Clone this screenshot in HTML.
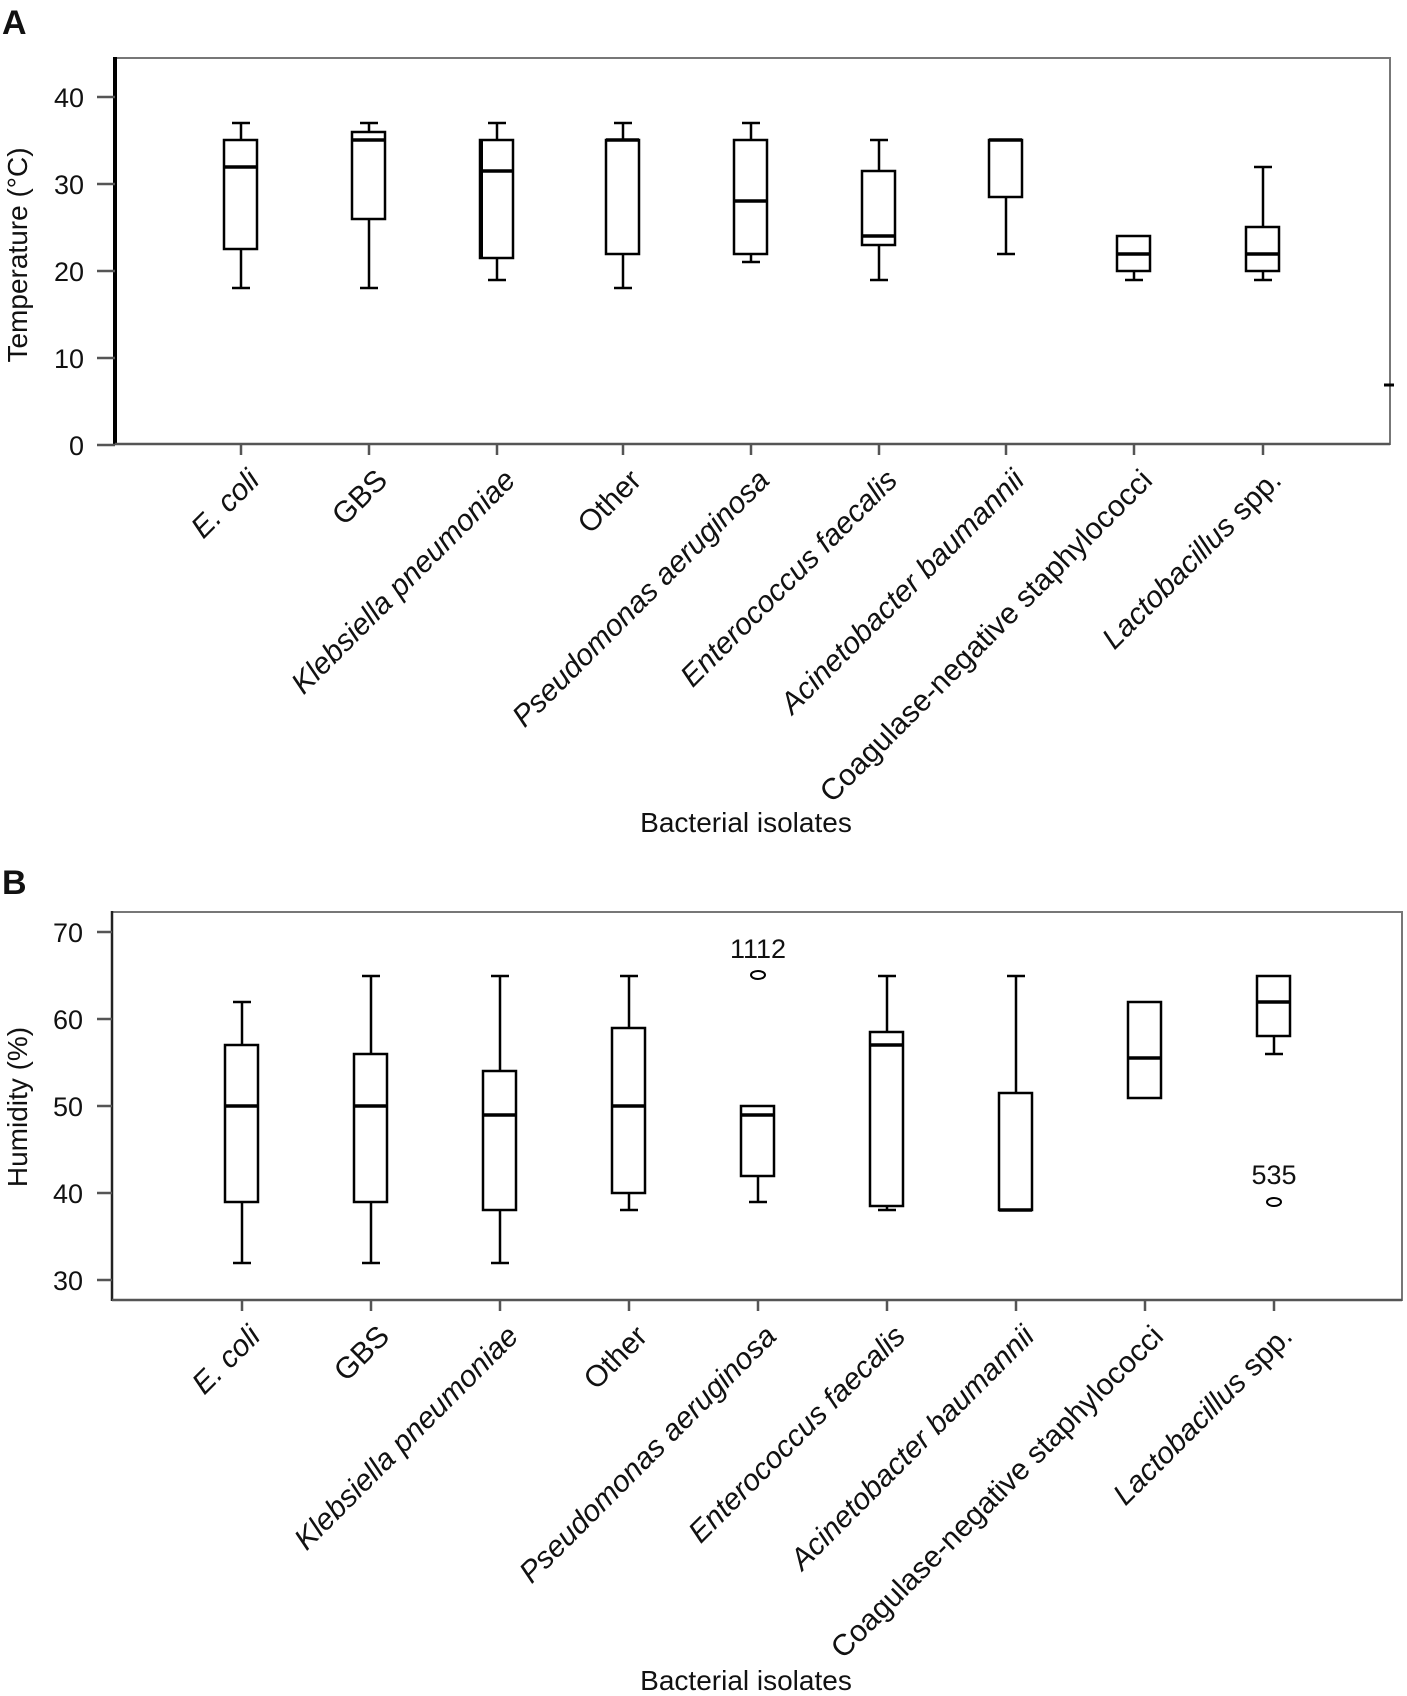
<!DOCTYPE html>
<html><head><meta charset="utf-8"><style>
html,body{margin:0;padding:0;background:#fff;}
svg{display:block;}
text{font-family:"Liberation Sans",Arial,sans-serif;fill:#111;}
</style></head><body>
<svg width="1407" height="1696" viewBox="0 0 1407 1696" xmlns="http://www.w3.org/2000/svg">
<rect width="1407" height="1696" fill="#fff"/>

<!-- Panel A -->
<text x="2" y="34" font-size="34" font-weight="bold">A</text>
<rect x="115" y="58" width="1275" height="386" fill="none" stroke="#777" stroke-width="2"/>
<line x1="115" y1="57" x2="115" y2="445" stroke="#000" stroke-width="4"/>
<line x1="115" y1="444" x2="1390" y2="444" stroke="#555" stroke-width="2.5"/>
<g stroke="#555" stroke-width="2.5">
<line x1="97" y1="97" x2="115" y2="97"/><line x1="97" y1="184" x2="115" y2="184"/>
<line x1="97" y1="271" x2="115" y2="271"/><line x1="97" y1="358" x2="115" y2="358"/>
<line x1="97" y1="445" x2="115" y2="445"/>
</g>
<g font-size="27" text-anchor="end">
<text x="84" y="107">40</text><text x="84" y="194">30</text><text x="84" y="281">20</text>
<text x="84" y="368">10</text><text x="84" y="455">0</text>
</g>
<text transform="translate(27,255) rotate(-90)" font-size="28" text-anchor="middle">Temperature (°C)</text>
<line x1="1384" y1="385" x2="1394" y2="385" stroke="#000" stroke-width="3"/>

<g stroke="#000" stroke-width="2.5" fill="none">
<line x1="241" y1="123" x2="241" y2="140"/><line x1="241" y1="249" x2="241" y2="288"/>
<line x1="232" y1="123" x2="250" y2="123"/><line x1="232" y1="288" x2="250" y2="288"/>
<rect x="224" y="140" width="33" height="109" fill="#fff"/><line x1="224" y1="167" x2="257" y2="167" stroke-width="3.5"/>
<line x1="369" y1="123" x2="369" y2="132"/><line x1="369" y1="219" x2="369" y2="288"/>
<line x1="360" y1="123" x2="378" y2="123"/><line x1="360" y1="288" x2="378" y2="288"/>
<rect x="352" y="132" width="33" height="87" fill="#fff"/><line x1="352" y1="140" x2="385" y2="140" stroke-width="3.5"/>
<line x1="497" y1="123" x2="497" y2="140"/><line x1="497" y1="258" x2="497" y2="280"/>
<line x1="488" y1="123" x2="506" y2="123"/><line x1="488" y1="280" x2="506" y2="280"/>
<rect x="480" y="140" width="33" height="118" fill="#fff"/><line x1="480" y1="171" x2="513" y2="171" stroke-width="3.5"/>
<line x1="481" y1="140" x2="481" y2="258" stroke-width="4"/>
<line x1="623" y1="123" x2="623" y2="140"/><line x1="623" y1="254" x2="623" y2="288"/>
<line x1="614" y1="123" x2="632" y2="123"/><line x1="614" y1="288" x2="632" y2="288"/>
<rect x="606" y="140" width="33" height="114" fill="#fff"/><line x1="606" y1="140" x2="639" y2="140" stroke-width="3.5"/>
<line x1="751" y1="123" x2="751" y2="140"/><line x1="751" y1="254" x2="751" y2="262"/>
<line x1="742" y1="123" x2="760" y2="123"/><line x1="742" y1="262" x2="760" y2="262"/>
<rect x="734" y="140" width="33" height="114" fill="#fff"/><line x1="734" y1="201" x2="767" y2="201" stroke-width="3.5"/>
<line x1="879" y1="140" x2="879" y2="171"/><line x1="879" y1="245" x2="879" y2="280"/>
<line x1="870" y1="140" x2="888" y2="140"/><line x1="870" y1="280" x2="888" y2="280"/>
<rect x="862" y="171" width="33" height="74" fill="#fff"/><line x1="862" y1="236" x2="895" y2="236" stroke-width="3.5"/>
<line x1="1006" y1="197" x2="1006" y2="254"/><line x1="997" y1="254" x2="1015" y2="254"/>
<rect x="989" y="140" width="33" height="57" fill="#fff"/><line x1="989" y1="140" x2="1022" y2="140" stroke-width="3.5"/>
<line x1="1134" y1="271" x2="1134" y2="280"/><line x1="1125" y1="280" x2="1143" y2="280"/>
<rect x="1117" y="236" width="33" height="35" fill="#fff"/><line x1="1117" y1="254" x2="1150" y2="254" stroke-width="3.5"/>
<line x1="1263" y1="167" x2="1263" y2="227"/><line x1="1263" y1="271" x2="1263" y2="280"/>
<line x1="1254" y1="167" x2="1272" y2="167"/><line x1="1254" y1="280" x2="1272" y2="280"/>
<rect x="1246" y="227" width="33" height="44" fill="#fff"/><line x1="1246" y1="254" x2="1279" y2="254" stroke-width="3.5"/>
</g>
<g stroke="#555" stroke-width="2.5">
<line x1="241" y1="444" x2="241" y2="455"/><line x1="369" y1="444" x2="369" y2="455"/>
<line x1="497" y1="444" x2="497" y2="455"/><line x1="623" y1="444" x2="623" y2="455"/>
<line x1="751" y1="444" x2="751" y2="455"/><line x1="879" y1="444" x2="879" y2="455"/>
<line x1="1006" y1="444" x2="1006" y2="455"/><line x1="1134" y1="444" x2="1134" y2="455"/>
<line x1="1263" y1="444" x2="1263" y2="455"/>
</g>
<g font-size="30" text-anchor="end">
<text transform="translate(261,482) rotate(-45)" font-style="italic">E. coli</text>
<text transform="translate(389,482) rotate(-45)">GBS</text>
<text transform="translate(517,482) rotate(-45)" font-style="italic">Klebsiella pneumoniae</text>
<text transform="translate(643,482) rotate(-45)">Other</text>
<text transform="translate(771,482) rotate(-45)" font-style="italic">Pseudomonas aeruginosa</text>
<text transform="translate(899,482) rotate(-45)" font-style="italic">Enterococcus faecalis</text>
<text transform="translate(1026,482) rotate(-45)" font-style="italic">Acinetobacter baumannii</text>
<text transform="translate(1154,482) rotate(-45)">Coagulase-negative staphylococci</text>
<text transform="translate(1283,482) rotate(-45)"><tspan font-style="italic">Lactobacillus</tspan> spp.</text>
</g>
<text x="746" y="832" font-size="28" text-anchor="middle">Bacterial isolates</text>

<!-- Panel B -->
<text x="2" y="894" font-size="34" font-weight="bold">B</text>
<rect x="112" y="912" width="1290" height="388" fill="none" stroke="#777" stroke-width="2"/>
<line x1="112" y1="911" x2="112" y2="1301" stroke="#222" stroke-width="2.5"/>
<line x1="112" y1="1300" x2="1402" y2="1300" stroke="#555" stroke-width="2.5"/>
<g stroke="#555" stroke-width="2.5">
<line x1="97" y1="932" x2="112" y2="932"/><line x1="97" y1="1019" x2="112" y2="1019"/>
<line x1="97" y1="1106" x2="112" y2="1106"/><line x1="97" y1="1193" x2="112" y2="1193"/>
<line x1="97" y1="1280" x2="112" y2="1280"/>
</g>
<g font-size="27" text-anchor="end">
<text x="83" y="942">70</text><text x="83" y="1029">60</text><text x="83" y="1116">50</text>
<text x="83" y="1203">40</text><text x="83" y="1290">30</text>
</g>
<text transform="translate(27,1107) rotate(-90)" font-size="28" text-anchor="middle">Humidity (%)</text>

<g stroke="#000" stroke-width="2.5" fill="none">
<line x1="242" y1="1002" x2="242" y2="1045"/><line x1="242" y1="1202" x2="242" y2="1263"/>
<line x1="233" y1="1002" x2="251" y2="1002"/><line x1="233" y1="1263" x2="251" y2="1263"/>
<rect x="225" y="1045" width="33" height="157" fill="#fff"/><line x1="225" y1="1106" x2="258" y2="1106" stroke-width="3.5"/>
<line x1="371" y1="976" x2="371" y2="1054"/><line x1="371" y1="1202" x2="371" y2="1263"/>
<line x1="362" y1="976" x2="380" y2="976"/><line x1="362" y1="1263" x2="380" y2="1263"/>
<rect x="354" y="1054" width="33" height="148" fill="#fff"/><line x1="354" y1="1106" x2="387" y2="1106" stroke-width="3.5"/>
<line x1="500" y1="976" x2="500" y2="1071"/><line x1="500" y1="1210" x2="500" y2="1263"/>
<line x1="491" y1="976" x2="509" y2="976"/><line x1="491" y1="1263" x2="509" y2="1263"/>
<rect x="483" y="1071" width="33" height="139" fill="#fff"/><line x1="483" y1="1115" x2="516" y2="1115" stroke-width="3.5"/>
<line x1="629" y1="976" x2="629" y2="1028"/><line x1="629" y1="1193" x2="629" y2="1210"/>
<line x1="620" y1="976" x2="638" y2="976"/><line x1="620" y1="1210" x2="638" y2="1210"/>
<rect x="612" y="1028" width="33" height="165" fill="#fff"/><line x1="612" y1="1106" x2="645" y2="1106" stroke-width="3.5"/>
<line x1="758" y1="1176" x2="758" y2="1202"/><line x1="749" y1="1202" x2="767" y2="1202"/>
<rect x="741" y="1106" width="33" height="70" fill="#fff"/><line x1="741" y1="1115" x2="774" y2="1115" stroke-width="3.5"/>
<ellipse cx="758" cy="975" rx="7" ry="4" stroke-width="2"/>
<line x1="887" y1="976" x2="887" y2="1032"/><line x1="887" y1="1206" x2="887" y2="1210"/>
<line x1="878" y1="976" x2="896" y2="976"/><line x1="878" y1="1210" x2="896" y2="1210"/>
<rect x="870" y="1032" width="33" height="174" fill="#fff"/><line x1="870" y1="1045" x2="903" y2="1045" stroke-width="3.5"/>
<line x1="1016" y1="976" x2="1016" y2="1093"/><line x1="1007" y1="976" x2="1025" y2="976"/>
<rect x="999" y="1093" width="33" height="117" fill="#fff"/><line x1="999" y1="1210" x2="1032" y2="1210" stroke-width="3.5"/>
<rect x="1128" y="1002" width="33" height="96" fill="#fff"/><line x1="1128" y1="1058" x2="1161" y2="1058" stroke-width="3.5"/>
<line x1="1274" y1="1036" x2="1274" y2="1054"/><line x1="1265" y1="1054" x2="1283" y2="1054"/>
<rect x="1257" y="976" width="33" height="60" fill="#fff"/><line x1="1257" y1="1002" x2="1290" y2="1002" stroke-width="3.5"/>
<ellipse cx="1274" cy="1202" rx="7" ry="4" stroke-width="2"/>
</g>
<text x="758" y="958" font-size="27" text-anchor="middle">1112</text>
<text x="1274" y="1184" font-size="27" text-anchor="middle">535</text>

<g stroke="#555" stroke-width="2.5">
<line x1="242" y1="1300" x2="242" y2="1311"/><line x1="371" y1="1300" x2="371" y2="1311"/>
<line x1="500" y1="1300" x2="500" y2="1311"/><line x1="629" y1="1300" x2="629" y2="1311"/>
<line x1="758" y1="1300" x2="758" y2="1311"/><line x1="887" y1="1300" x2="887" y2="1311"/>
<line x1="1016" y1="1300" x2="1016" y2="1311"/><line x1="1145" y1="1300" x2="1145" y2="1311"/>
<line x1="1274" y1="1300" x2="1274" y2="1311"/>
</g>
<g font-size="30" text-anchor="end">
<text transform="translate(262,1338) rotate(-45)" font-style="italic">E. coli</text>
<text transform="translate(391,1338) rotate(-45)">GBS</text>
<text transform="translate(520,1338) rotate(-45)" font-style="italic">Klebsiella pneumoniae</text>
<text transform="translate(649,1338) rotate(-45)">Other</text>
<text transform="translate(778,1338) rotate(-45)" font-style="italic">Pseudomonas aeruginosa</text>
<text transform="translate(907,1338) rotate(-45)" font-style="italic">Enterococcus faecalis</text>
<text transform="translate(1036,1338) rotate(-45)" font-style="italic">Acinetobacter baumannii</text>
<text transform="translate(1165,1338) rotate(-45)">Coagulase-negative staphylococci</text>
<text transform="translate(1294,1338) rotate(-45)"><tspan font-style="italic">Lactobacillus</tspan> spp.</text>
</g>
<text x="746" y="1690" font-size="28" text-anchor="middle">Bacterial isolates</text>
</svg>
</body></html>
